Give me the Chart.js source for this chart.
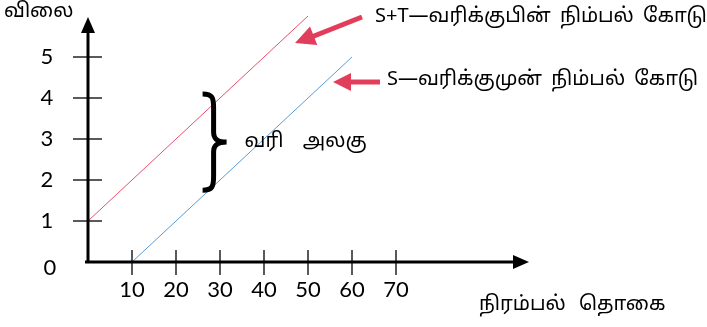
<!DOCTYPE html>
<html>
<head>
<meta charset="utf-8">
<script src="https://cdn.jsdelivr.net/npm/chart.js@4.4.1/dist/chart.umd.min.js"></script>
<style>
    html, body { margin: 0; padding: 0; background: #fff; }
    #wrap { width: 707px; height: 327px; }
</style>
</head>
<body>
<div id="wrap"><canvas id="chart"></canvas></div>
<script>
// Supply lines before and after the tax
const beforeX = [10, 60];
const beforeY = [0, 5];
const afterX = [0, 50];
const afterY = [1, 6];

// Tick labels
const xTicks = [10, 20, 30, 40, 50, 60, 70];
const yTicks = [1, 2, 3, 4, 5];

// Texts
const yTitle = 'விலை';
const xTitle = 'நிரம்பல் தொகை';
const afterLabel = 'S+T—வரிக்குபின் நிம்பல் கோடு';
const beforeLabel = 'S—வரிக்குமுன் நிம்பல் கோடு';
const taxLabel = 'வரி அலகு';

const tamilFont = "'Noto Sans Tamil', Latha, 'Noto Sans', sans-serif";
const numFont = "Lato, 'Open Sans', sans-serif";
const arrowRed = '#e23e5c';

function toPoints(xs, ys) {
    return xs.map((x, i) => ({ x: x, y: ys[i] }));
}

function arrowHead(ctx, x1, y1, x2, y2, len, half) {
    const a = Math.atan2(y2 - y1, x2 - x1);
    ctx.beginPath();
    ctx.moveTo(x2, y2);
    ctx.lineTo(x2 - len * Math.cos(a) + half * Math.sin(a), y2 - len * Math.sin(a) - half * Math.cos(a));
    ctx.lineTo(x2 - len * Math.cos(a) - half * Math.sin(a), y2 - len * Math.sin(a) + half * Math.cos(a));
    ctx.closePath();
    ctx.fill();
}

// Draws the axes, ticks, labels and notes
const decorPlugin = {
    id: 'decor',
    afterDatasetsDraw(chart) {
        const ctx = chart.ctx;
        const xs = chart.scales.x;
        const ys = chart.scales.y;
        const x0 = xs.getPixelForValue(0);
        const y0 = ys.getPixelForValue(0);
        ctx.save();

        // axes
        ctx.strokeStyle = '#000';
        ctx.fillStyle = '#000';
        ctx.lineWidth = 3;
        ctx.beginPath();
        ctx.moveTo(x0, y0 + 1);
        ctx.lineTo(x0, 30);
        ctx.moveTo(x0 - 3, y0);
        ctx.lineTo(515, y0);
        ctx.stroke();
        arrowHead(ctx, x0, y0, x0, 17, 16, 7);
        arrowHead(ctx, x0, y0, 529, y0, 16, 7);

        // ticks
        ctx.lineWidth = 1.3;
        ctx.font = '22px ' + numFont;
        ctx.textAlign = 'center';
        ctx.textBaseline = 'middle';
        yTicks.forEach(v => {
            const py = ys.getPixelForValue(v);
            ctx.beginPath();
            ctx.moveTo(x0 - 15, py);
            ctx.lineTo(x0 + 14, py);
            ctx.stroke();
            ctx.fillText(String(v), 47, py);
        });
        ctx.fillText('0', 50, y0 + 6);
        xTicks.forEach(v => {
            const px = xs.getPixelForValue(v);
            ctx.beginPath();
            ctx.moveTo(px, y0 - 12);
            ctx.lineTo(px, y0 + 13);
            ctx.stroke();
            ctx.fillText(String(v), px, y0 + 28);
        });

        // titles
        ctx.font = '20px ' + tamilFont;
        ctx.textAlign = 'left';
        ctx.wordSpacing = '8px';
        ctx.fillText(yTitle, 4, 13);
        ctx.fillText(xTitle, 479, 306);

        // brace for the tax unit
        const bx = xs.getPixelForValue(26.5);
        const bTop = ys.getPixelForValue(4.1);
        const bBot = ys.getPixelForValue(1.75);
        const bMid = (bTop + bBot) / 2;
        ctx.lineWidth = 5;
        ctx.beginPath();
        ctx.moveTo(bx - 2, bTop);
        ctx.bezierCurveTo(bx + 8, bTop, bx + 9, bTop + 4, bx + 9, bTop + 14);
        ctx.lineTo(bx + 9, bMid - 10);
        ctx.bezierCurveTo(bx + 9, bMid - 2, bx + 14, bMid, bx + 22, bMid);
        ctx.bezierCurveTo(bx + 14, bMid, bx + 9, bMid + 2, bx + 9, bMid + 10);
        ctx.lineTo(bx + 9, bBot - 14);
        ctx.bezierCurveTo(bx + 9, bBot - 4, bx + 8, bBot, bx - 2, bBot);
        ctx.stroke();
        ctx.wordSpacing = '14px';
        ctx.fillText(taxLabel, bx + 40, bMid + 1);

        // arrows pointing at the lines
        ctx.strokeStyle = arrowRed;
        ctx.fillStyle = arrowRed;
        ctx.lineWidth = 5;
        ctx.beginPath();
        ctx.moveTo(362, 17);
        ctx.lineTo(309, 38);
        ctx.stroke();
        arrowHead(ctx, 362, 17, 295, 43, 20, 10);
        ctx.beginPath();
        ctx.moveTo(380, 82);
        ctx.lineTo(348, 82);
        ctx.stroke();
        arrowHead(ctx, 380, 82, 333, 82, 18, 9);

        ctx.fillStyle = '#000';
        ctx.font = '20px ' + tamilFont;
        ctx.wordSpacing = '4px';
        ctx.fillText(afterLabel, 375, 18);
        ctx.fillText(beforeLabel, 387, 81);
        ctx.restore();
    }
};

new Chart(document.getElementById('chart'), {
    type: 'scatter',
    data: {
        datasets: [
            {
                label: 'S+T',
                data: toPoints(afterX, afterY),
                showLine: true,
                borderColor: '#e8506e',
                borderWidth: 1,
                pointRadius: 0
            },
            {
                label: 'S',
                data: toPoints(beforeX, beforeY),
                showLine: true,
                borderColor: '#5b9bd5',
                borderWidth: 1,
                pointRadius: 0
            }
        ]
    },
    options: {
        responsive: true,
        maintainAspectRatio: false,
        animation: false,
        layout: {
            padding: { left: 88, right: 179, top: 16, bottom: 65 }
        },
        scales: {
            x: { type: 'linear', min: 0, max: 100, display: false },
            y: { type: 'linear', min: 0, max: 6, display: false }
        },
        plugins: {
            legend: { display: false },
            tooltip: { enabled: false }
        }
    },
    plugins: [decorPlugin]
});
</script>
</body>
</html>
